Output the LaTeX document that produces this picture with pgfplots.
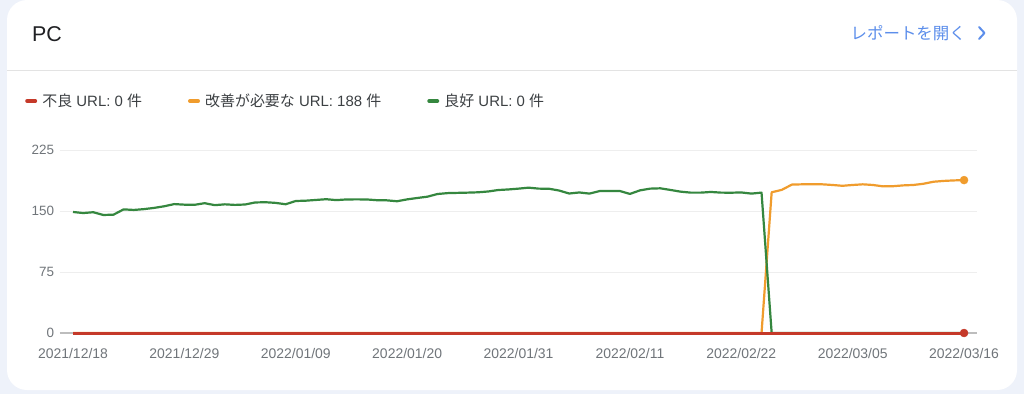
\documentclass[border=0pt]{standalone}
\usepackage{pgfplots}
\pgfplotsset{compat=1.18}
\usepackage{fontspec}
\setmainfont{Liberation Sans}
\newfontfamily\cjk{Noto Sans CJK JP}
\definecolor{bg}{HTML}{EEF2FA}
\definecolor{poor}{HTML}{C53929}
\definecolor{ni}{HTML}{F09C2D}
\definecolor{good}{HTML}{35873F}
\definecolor{gridc}{HTML}{EEEEEE}
\definecolor{zeroc}{HTML}{BDBDBD}
\definecolor{tickc}{HTML}{70757A}
\definecolor{legc}{HTML}{3C4043}
\definecolor{titlec}{HTML}{202124}
\definecolor{linkc}{HTML}{5C8EEB}
\definecolor{divc}{HTML}{E3E3E3}

\pgfplotstableread{
d v
0 148.8
1 147.5
2 148.5
3 145.1
4 145.5
5 152
6 151.3
7 152.3
8 153.8
9 155.8
10 158.5
11 157.8
12 157.6
13 159.6
14 157.2
15 158.2
16 157.5
17 158
18 160.5
19 160.8
20 160
21 158.3
22 162.3
23 162.7
24 163.6
25 164.5
26 163.4
27 164.2
28 164.3
29 164.2
30 163.3
31 163.1
32 162
33 164.3
34 166
35 167.6
36 170.9
37 172
38 172.3
39 172.6
40 173
41 174
42 175.8
43 176.5
44 177.5
45 178.7
46 177.5
47 177.4
48 175.2
49 171.5
50 172.8
51 171.4
52 174.5
53 174.6
54 174.6
55 171
56 175.4
57 177.5
58 177.9
59 175.9
60 173.8
61 172.6
62 172.6
63 173.4
64 172.6
65 172.5
66 172.8
67 171.4
68 172.6
69 0
88 0
}\good

\pgfplotstableread{
d v
0 0
68 0
69 173
70 176
71 182.5
72 182.8
73 182.8
74 182.8
75 182
76 181
77 182
78 182.8
79 182
80 180.3
81 180.5
82 181.5
83 182
84 183.5
85 186
86 187
87 187.6
88 188
}\needs

\pgfplotstableread{
d v
0 0
88 0
}\poor

\begin{document}
\begin{tikzpicture}
\fill[bg] (0bp,0bp) rectangle (1024bp,-394bp);
\fill[white, rounded corners=20bp] (7bp,0bp) rectangle (1017bp,-390bp);
\draw[divc, line width=1bp] (7bp,-70bp) -- (1017bp,-70bp);
\node[anchor=base west, inner sep=0pt, text=titlec, font=\fontsize{21.5}{24}\selectfont] at (32bp,-41bp) {PC};
\node[anchor=east, inner sep=0pt, text=linkc, font=\cjk\fontsize{16.5}{19}\selectfont] at (966bp,-33bp) {レポートを開く};
\draw[linkc, line width=2bp, line cap=round, line join=round] (979bp,-27bp) -- (984.5bp,-33bp) -- (979bp,-39bp);

\begin{axis}[
  at={(59.84bp,-333bp)}, anchor=south west,
  scale only axis, width=917.36bp, height=183bp,
  xmin=-1.3, xmax=89.3, ymin=0, ymax=225,
  clip=false,
  axis line style={draw=none},
  tick style={draw=none},
  xtick={0,11,22,33,44,55,66,77,88},
  xticklabels={2021/12/18,2021/12/29,2022/01/09,2022/01/20,2022/01/31,2022/02/11,2022/02/22,2022/03/05,2022/03/16},
  ytick={75,150,225},
  extra y ticks={0},
  extra y tick style={grid style={zeroc, line width=1.6bp}},
  ymajorgrids,
  grid style={gridc, line width=1bp},
  /pgf/number format/assume math mode=true,
  yticklabel style={font=\fontsize{13.5}{16}\selectfont, text=tickc, xshift=-2.3bp},
  xticklabel style={font=\fontsize{14}{16}\selectfont, text=tickc, yshift=-12bp},
  legend columns=3,
  legend style={at={(-0.03798,1.2678)}, anchor=west, draw=none, fill=none,
    font=\fontsize{15}{18}\selectfont, text=legc, inner sep=0pt,
    /tikz/every even column/.append style={column sep=44bp}},
  legend image code/.code={\draw[#1, line width=4bp, line cap=round] (2bp,0bp) -- (10bp,0bp); \path (15bp,0bp);},
]
\addlegendimage{poor}
\addlegendentry{{\cjk 不良} URL: 0 {\cjk 件}}
\addlegendimage{ni}
\addlegendentry{{\cjk 改善が必要な} URL: 188 {\cjk 件}}
\addlegendimage{good}
\addlegendentry{{\cjk 良好} URL: 0 {\cjk 件}}

\addplot[ni, line width=2.2bp, line join=round, forget plot] table[x=d,y=v] {\needs};
\addplot[good, line width=2.2bp, line join=round, forget plot] table[x=d,y=v] {\good};
\addplot[poor, line width=3bp, forget plot] table[x=d,y=v] {\poor};
\addplot[ni, only marks, mark=*, mark size=4bp, forget plot] coordinates {(88,188)};
\addplot[poor, only marks, mark=*, mark size=4bp, forget plot] coordinates {(88,0)};
\end{axis}
\pgfresetboundingbox
\useasboundingbox (0bp,0bp) rectangle (1024bp,-394bp);
\end{tikzpicture}
\end{document}
